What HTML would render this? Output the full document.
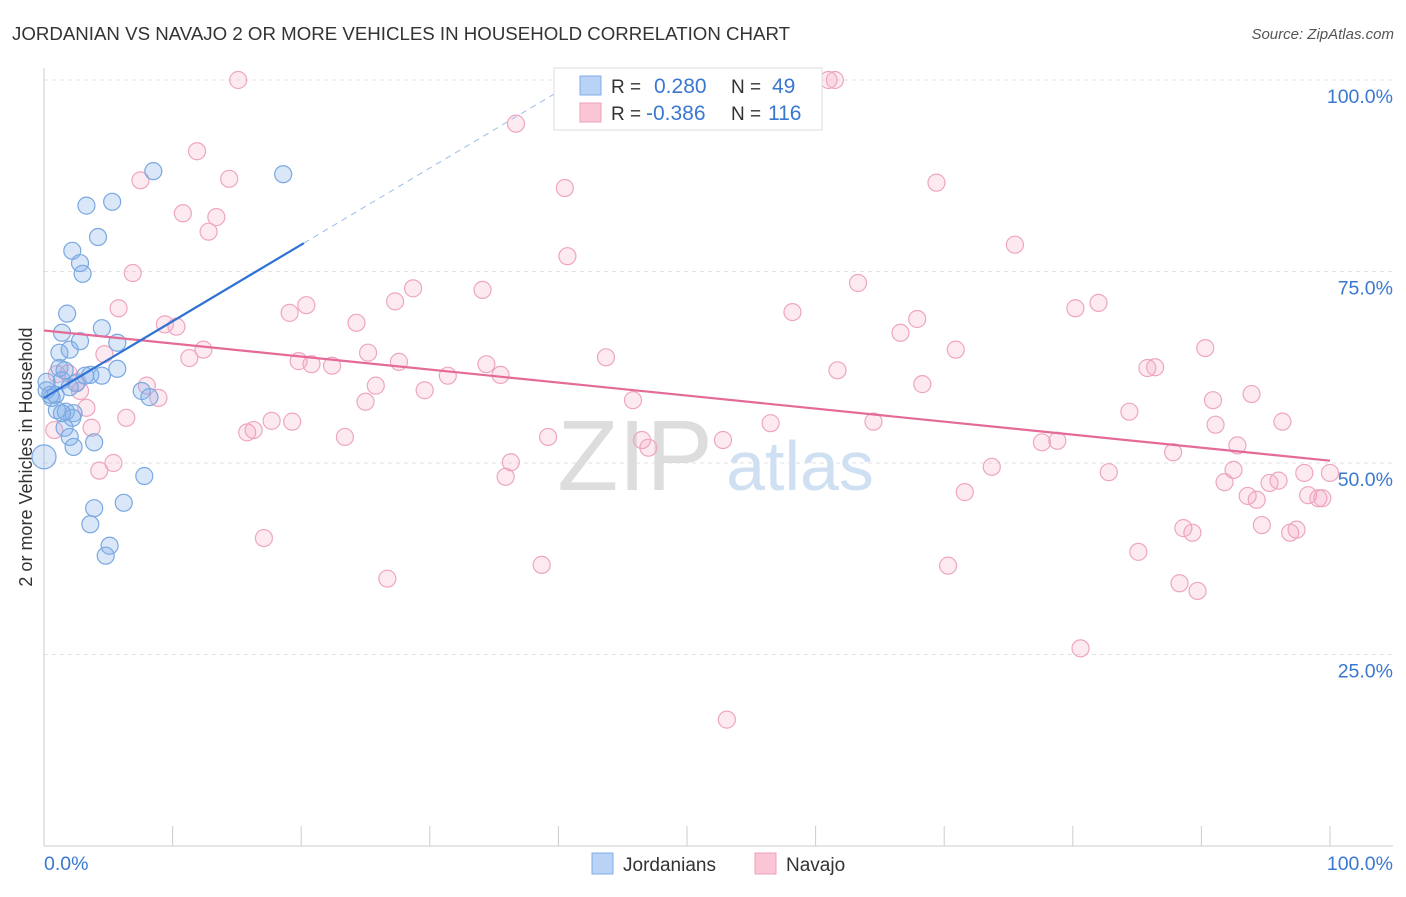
<!DOCTYPE html>
<html><head><meta charset="utf-8">
<style>
body{margin:0;background:#fff;font-family:"Liberation Sans",sans-serif;}
svg text{font-family:"Liberation Sans",sans-serif;}
</style></head>
<body>
<svg id="chart" width="1406" height="892" xmlns="http://www.w3.org/2000/svg">
<text x="12" y="40" font-size="18" fill="#333" textLength="778" lengthAdjust="spacingAndGlyphs">JORDANIAN VS NAVAJO 2 OR MORE VEHICLES IN HOUSEHOLD CORRELATION CHART</text>
<text x="1394" y="39" font-size="15" fill="#555" text-anchor="end" font-style="italic">Source: ZipAtlas.com</text>
<g id="grid"></g>
<g>
<text x="635" y="490" font-size="100" fill="#ddd" text-anchor="middle" font-family="Liberation Serif">ZIP</text>
<text x="800" y="490" font-size="70" fill="#cfe0f3" text-anchor="middle">atlas</text>
</g>
<line x1="44" y1="68" x2="44" y2="846" stroke="#ccc"/>
<line x1="44" y1="846" x2="1393" y2="846" stroke="#ccc"/>
<g id="ticks"></g>
<text x="32" y="457" font-size="18" fill="#333" text-anchor="middle" transform="rotate(-90 32 457)">2 or more Vehicles in Household</text>
<g id="pink"></g>
<g id="blue"></g>
<g id="trends"></g>
<g>
<rect x="554" y="68" width="268" height="62" fill="#fff" stroke="#ddd"/>
<rect x="580" y="76" width="21" height="19" fill="#b8d3f5" stroke="#80aee8"/>
<rect x="580" y="103" width="21" height="19" fill="#fac6d6" stroke="#eca2ba"/>
<text x="611" y="93" font-size="19" fill="#333">R = <tspan x="654" fill="#3a78d0" font-size="21">0.280</tspan></text>
<text x="731" y="93" font-size="19" fill="#333">N = <tspan x="772" fill="#3a78d0" font-size="21">49</tspan></text>
<text x="611" y="120" font-size="19" fill="#333">R = <tspan x="646" fill="#3a78d0" font-size="21">-0.386</tspan></text>
<text x="731" y="120" font-size="19" fill="#333">N = <tspan x="768" fill="#3a78d0" font-size="21">116</tspan></text>
</g>
<g>
<rect x="592" y="853" width="21" height="21" fill="#b8d3f5" stroke="#80aee8"/>
<text x="623" y="871" font-size="19" fill="#333">Jordanians</text>
<rect x="755" y="853" width="21" height="21" fill="#fac6d6" stroke="#eca2ba"/>
<text x="786" y="871" font-size="19" fill="#333">Navajo</text>
</g>
</svg>
<script>
const blueX=[0,0.2,0.5,0.6,0.9,0.2,1.0,1.2,1.4,1.2,1.4,1.8,2.0,2.2,2.8,3.0,3.3,4.2,5.3,8.5,18.6,4.5,2.8,5.7,5.7,3.6,4.5,2.5,2.0,1.7,2.3,2.2,1.6,2.0,2.3,3.9,7.6,8.2,7.8,6.2,3.9,3.6,5.1,4.8,1.4,1.6,3.2];
const blueY=[50.8,59.5,58.9,58.5,58.9,60.6,56.9,62.4,60.8,64.4,67.0,69.5,64.8,77.7,76.1,74.7,83.6,79.5,84.1,88.1,87.7,67.6,65.9,65.7,62.3,61.5,61.4,60.4,59.9,56.7,56.5,55.9,54.6,53.4,52.1,52.7,59.4,58.6,48.3,44.8,44.1,42.0,39.2,37.9,56.5,62.1,61.4];
const pinkX=[15.1,61.0,61.5,36.7,11.9,7.5,14.4,10.8,13.4,12.8,40.5,69.4,40.7,6.9,75.5,63.3,28.7,34.1,27.3,20.4,19.1,5.8,58.2,80.2,82.0,9.4,10.3,24.3,67.9,66.6,4.7,12.4,11.3,25.2,19.8,20.8,22.4,27.6,43.7,70.9,90.3,34.4,35.5,31.4,61.7,85.8,86.4,8.0,8.9,2.6,2.8,1.0,1.9,25.8,25.0,29.6,68.3,93.9,90.9,3.3,45.8,0.8,3.7,6.4,17.7,19.3,15.8,16.3,23.4,56.5,64.5,84.4,91.1,96.3,39.2,46.5,47.0,52.8,77.6,78.8,87.8,92.8,96.0,5.4,4.3,36.3,35.9,98.0,100,82.8,73.7,92.5,91.8,95.3,93.6,94.3,98.3,99.1,99.4,71.6,94.7,88.6,89.3,96.9,97.4,17.1,85.1,38.7,70.3,26.7,88.3,89.7,80.6,53.1];
const pinkY=[100,100,100,94.3,90.7,86.9,87.1,82.6,82.1,80.2,85.9,86.6,77.0,74.8,78.5,73.5,72.8,72.6,71.1,70.6,69.6,70.2,69.7,70.2,70.9,68.1,67.8,68.3,68.8,67.0,64.2,64.8,63.7,64.4,63.3,62.9,62.7,63.2,63.8,64.8,65.0,62.9,61.5,61.4,62.1,62.4,62.5,60.1,58.5,60.6,59.4,61.6,61.7,60.1,58.0,59.5,60.3,59.0,58.2,57.2,58.2,54.3,54.6,55.9,55.5,55.4,54.0,54.3,53.4,55.2,55.4,56.7,55.0,55.4,53.4,53.0,52.0,53.0,52.7,52.9,51.4,52.3,47.7,50.0,49.0,50.1,48.2,48.7,48.7,48.8,49.5,49.1,47.5,47.4,45.7,45.2,45.8,45.4,45.4,46.2,41.9,41.5,40.9,40.9,41.3,40.2,38.4,36.7,36.6,34.9,34.3,33.3,25.8,16.5];
const yTicks=[25,50,75,100];
const yTickLabels=["25.0%","50.0%","75.0%","100.0%"];
const xTicks=[0,10,20,30,40,50,60,70,80,90,100];
const blueTrend=[58.5,1.0]; // intercept, slope
const pinkTrend=[67.3,-0.17];
const X=v=>44+v*12.86, Y=v=>846-v*7.66;
const NS="http://www.w3.org/2000/svg";
function mk(t,a,p){const e=document.createElementNS(NS,t);for(const k in a)e.setAttribute(k,a[k]);p.appendChild(e);return e;}
const grid=document.getElementById('grid'),ticks=document.getElementById('ticks');
yTicks.forEach((v,i)=>{
 const l=mk('line',{x1:44,x2:1393,y1:Y(v),y2:Y(v),stroke:'#e2e2e2','stroke-dasharray':'4,4'},grid);
 
 
 const t=mk('text',{x:1393,y:Y(v)+23,'font-size':19.5,fill:'#3a78d0','text-anchor':'end'},ticks);
 t.textContent=yTickLabels[i];
 
 
});
xTicks.forEach(v=>{
 const l=mk('line',{x1:X(v),x2:X(v),y1:826,y2:846,stroke:'#ccc'},ticks);
 
 
});
const t0=mk('text',{x:44,y:870,'font-size':19.5,fill:'#3a78d0'},ticks);t0.textContent='0.0%';


const t1=mk('text',{x:1393,y:870,'font-size':19.5,fill:'#3a78d0','text-anchor':'end'},ticks);t1.textContent='100.0%';


const pg=document.getElementById('pink');
pinkX.forEach((x,i)=>{
 const c=mk('circle',{cx:X(x),cy:Y(pinkY[i]),r:8.5,fill:'rgba(244,160,190,0.22)',stroke:'#eea6bf','stroke-width':1.2},pg);
 
 
});
const bg=document.getElementById('blue');
blueX.forEach((x,i)=>{
 const c=mk('circle',{cx:X(x),cy:Y(blueY[i]),r:i===0?12:8.5,fill:'rgba(130,175,235,0.3)',stroke:'#7aa8e0','stroke-width':1.2},bg);
 
 
});
const tg=document.getElementById('trends');
const f=(tr,x)=>tr[0]+tr[1]*x;
const pl=mk('line',{x1:X(0),y1:Y(f(pinkTrend,0)),x2:X(100),y2:Y(f(pinkTrend,100)),stroke:'#e46a98','stroke-width':2.2},tg);


const xEnd=Math.min(100,(100-blueTrend[0])/blueTrend[1]);
const bd=mk('line',{x1:X(20.2),y1:Y(f(blueTrend,20.2)),x2:X(xEnd),y2:Y(f(blueTrend,xEnd)),stroke:'#9bbde8','stroke-width':1,'stroke-dasharray':'6,5'},tg);


const bl=mk('line',{x1:X(0),y1:Y(f(blueTrend,0)),x2:X(20.2),y2:Y(f(blueTrend,20.2)),stroke:'#2f72d4','stroke-width':2.2},tg);


</script>
</body></html>
